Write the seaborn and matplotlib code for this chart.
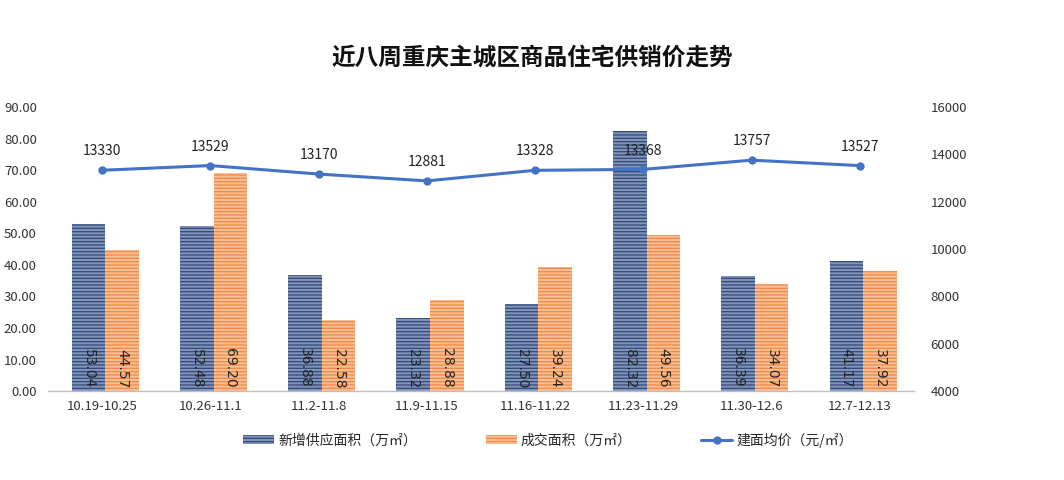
import matplotlib
matplotlib.use("Agg")
import matplotlib.pyplot as plt
import seaborn as sns
import pandas as pd
import numpy as np
from matplotlib.patches import Patch
from matplotlib.lines import Line2D

sns.set_theme(style="white")
plt.rcParams['font.family'] = ['Noto Sans CJK SC', 'DejaVu Sans']
plt.rcParams['hatch.linewidth'] = 0.9

weeks = ["10.19-10.25", "10.26-11.1", "11.2-11.8", "11.9-11.15", "11.16-11.22",
         "11.23-11.29", "11.30-12.6", "12.7-12.13"]
supply = [53.04, 52.48, 36.88, 23.32, 27.50, 82.32, 36.39, 41.17]
deals = [44.57, 69.20, 22.58, 28.88, 39.24, 49.56, 34.07, 37.92]
price = [13330, 13529, 13170, 12881, 13328, 13368, 13757, 13527]

s_name = "新增供应面积（万㎡）"
d_name = "成交面积（万㎡）"
p_name = "建面均价（元/㎡）"

df = pd.DataFrame({
    "week": weeks * 2,
    "value": supply + deals,
    "series": [s_name] * len(weeks) + [d_name] * len(weeks),
})

blue = "#8093B8"
orange = "#F9BE93"
edge_cols = ["#34497A", "#F08A45"]

fig = plt.figure(figsize=(10.64, 4.8), dpi=100)
ax = fig.add_axes([0.045, 0.185, 0.814, 0.592])

sns.barplot(data=df, x="week", y="value", hue="series", order=weeks,
            hue_order=[s_name, d_name], palette=[blue, orange], width=0.62,
            ax=ax, legend=False, saturation=1)

for i, cont in enumerate(ax.containers):
    for p in cont.patches:
        p.set_hatch("-----")
        p.set_edgecolor(edge_cols[i])
        p.set_linewidth(0)
        p.set_x(p.get_x() + 0.03)
    vals = supply if i == 0 else deals
    for p, v in zip(cont.patches, vals):
        ax.text(p.get_x() + p.get_width() / 2, 1.0, f"{v:.2f}", rotation=270,
                ha="center", va="bottom", fontsize=10, color="#222222",
                family=["DejaVu Sans"])

ax.set_ylim(0, 90)
ax.set_yticks(np.arange(0, 91, 10))
ax.set_yticklabels([f"{v:.2f}" for v in np.arange(0, 91, 10)], fontsize=9.5, color="#333333")
ax.set_xlim(-0.5, 7.5)
ax.set_xlabel("")
ax.set_ylabel("")
ax.tick_params(axis="x", labelsize=9.5, colors="#333333", length=0, pad=6)
ax.tick_params(axis="y", length=0, pad=8)
for s in ["top", "right", "left"]:
    ax.spines[s].set_visible(False)
ax.spines["bottom"].set_color("#BFBFBF")
ax.spines["bottom"].set_linewidth(1)

ax2 = ax.twinx()
pdf = pd.DataFrame({"week": weeks, "price": price})
pdf["x"] = np.arange(len(weeks))
sns.lineplot(data=pdf, x="x", y="price", ax=ax2, color="#4472C4", marker="o",
             markersize=6, linewidth=2.2, markeredgewidth=0, legend=False)
for xi, v in zip(pdf["x"], price):
    ax2.text(xi, v + 500, f"{v}", ha="center", va="bottom", fontsize=10, color="#222222")
ax2.set_ylim(4000, 16000)
ax2.set_yticks(np.arange(4000, 16001, 2000))
ax2.tick_params(axis="y", labelsize=9.5, colors="#333333", length=0, pad=12)
ax2.set_ylabel("")
ax2.set_xlabel("")
ax2.set_xlim(-0.5, 7.5)
for s in ["top", "right", "left", "bottom"]:
    ax2.spines[s].set_visible(False)
ax2.grid(False)
ax.grid(False)

fig.text(0.5, 0.88, "近八周重庆主城区商品住宅供销价走势", ha="center", va="center",
         fontsize=17, fontweight="bold", color="#111111")

handles = [
    Patch(facecolor=blue, edgecolor=edge_cols[0], hatch="-----", linewidth=0),
    Patch(facecolor=orange, edgecolor=edge_cols[1], hatch="-----", linewidth=0),
    Line2D([0], [0], color="#4472C4", marker="o", markersize=5, linewidth=2.2),
]
fig.legend(handles, [s_name, d_name, p_name], loc="center", bbox_to_anchor=(0.515, 0.083),
           ncol=3, frameon=False, fontsize=10, columnspacing=5, handlelength=2.2,
           handleheight=0.6, handletextpad=0.3)

fig.savefig("out.png", dpi=100, facecolor="white")
